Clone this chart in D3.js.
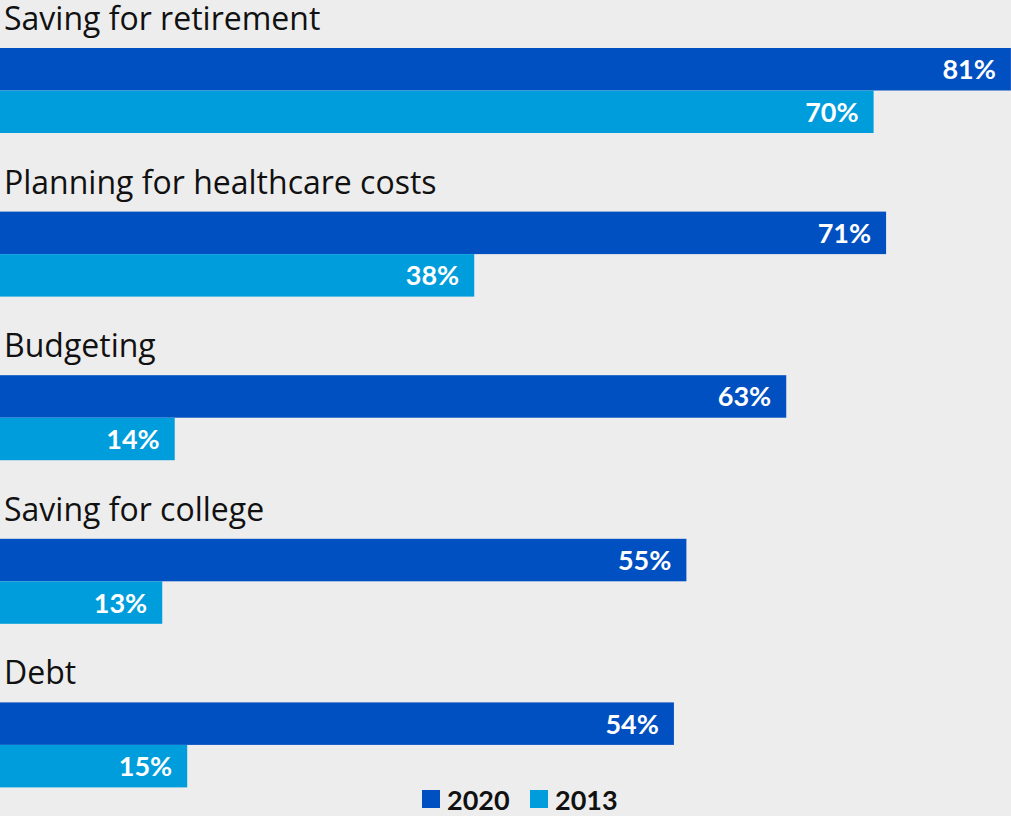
<!DOCTYPE html>
<html>
<head>
<meta charset="utf-8">
<script src="https://cdn.jsdelivr.net/npm/d3@7"></script>
<style>
  html, body { margin: 0; padding: 0; background: #ededed; }
  svg { display: block; }
</style>
</head>
<body>
<div id="chart"></div>
<script>
// data
var categories = ["Saving for retirement", "Planning for healthcare costs", "Budgeting", "Saving for college", "Debt"];
var years = ["2020", "2013"];
var values2020 = [81, 71, 63, 55, 54];
var values2013 = [70, 38, 14, 13, 15];

var colors = { "2020": "#0050c1", "2013": "#009ddd" };

var width = 1011;
var height = 816;

var svg = d3.select("#chart")
  .append("svg")
  .attr("width", width)
  .attr("height", height);

svg.append("rect")
  .attr("width", width)
  .attr("height", height)
  .attr("fill", "#ededed");

// one band per category, two bars inside each band
var y0 = d3.scaleBand().domain(categories).range([0, 818]);
var y1 = d3.scaleBand().domain(years).range([48, 133]);
var x = d3.scaleLinear().domain([0, 100]).range([0, 1248]);

var rows = categories.map(function(c, i) {
  return { name: c, vals: [{ year: "2020", v: values2020[i] }, { year: "2013", v: values2013[i] }] };
});

var groups = svg.selectAll(".group")
  .data(rows)
  .enter().append("g")
  .attr("class", "group")
  .attr("transform", function(d) { return "translate(0," + y0(d.name) + ")"; });

groups.append("text")
  .attr("x", 4)
  .attr("y", 30)
  .attr("font-family", "Open Sans, sans-serif")
  .attr("font-size", 32)
  .attr("fill", "#111")
  .text(function(d) { return d.name; });

var bars = groups.selectAll(".bar")
  .data(function(d) { return d.vals; })
  .enter().append("g")
  .attr("class", "bar");

bars.append("rect")
  .attr("x", 0)
  .attr("y", function(d) { return y1(d.year); })
  .attr("width", function(d) { return x(d.v); })
  .attr("height", y1.bandwidth())
  .attr("fill", function(d) { return colors[d.year]; });

bars.append("text")
  .attr("x", function(d) { return x(d.v) - 15; })
  .attr("y", function(d) { return y1(d.year) + y1.bandwidth() / 2 + 10; })
  .attr("text-anchor", "end")
  .attr("font-family", "Lato, sans-serif")
  .attr("font-weight", "bold")
  .attr("font-size", 27)
  .attr("fill", "#fff")
  .text(function(d) { return d.v + "%"; });

// legend
var legendX = { "2020": 422, "2013": 530 };
var legend = svg.selectAll(".legend")
  .data(years)
  .enter().append("g")
  .attr("class", "legend")
  .attr("transform", function(d) { return "translate(" + legendX[d] + ",790)"; });

legend.append("rect")
  .attr("width", 18)
  .attr("height", 18)
  .attr("fill", function(d) { return colors[d]; });

legend.append("text")
  .attr("x", 25)
  .attr("y", 20)
  .attr("font-family", "Lato, sans-serif")
  .attr("font-weight", "bold")
  .attr("font-size", 27)
  .attr("fill", "#111")
  .text(function(d) { return d; });
</script>
</body>
</html>
